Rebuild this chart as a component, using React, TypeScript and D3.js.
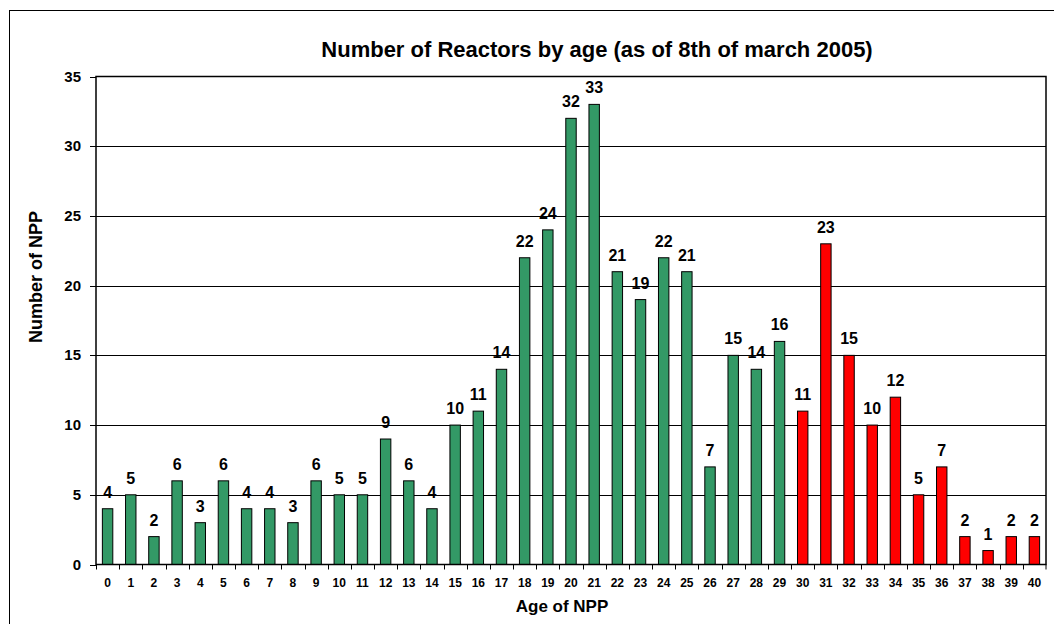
import React from "react";
import * as d3 from "d3";

const ages: number[] = [
  0, 1, 2, 3, 4, 5, 6, 7, 8, 9, 10, 11, 12, 13, 14, 15, 16, 17, 18, 19, 20,
  21, 22, 23, 24, 25, 26, 27, 28, 29, 30, 31, 32, 33, 34, 35, 36, 37, 38, 39, 40,
];
const counts: number[] = [
  4, 5, 2, 6, 3, 6, 4, 4, 3, 6, 5, 5, 9, 6, 4, 10, 11, 14, 22, 24, 32, 33, 21,
  19, 22, 21, 7, 15, 14, 16, 11, 23, 15, 10, 12, 5, 7, 2, 1, 2, 2,
];
const oldThreshold = 30;
const yTicks: number[] = [0, 5, 10, 15, 20, 25, 30, 35];
const title = "Number of Reactors by age (as of 8th of march 2005)";
const xTitle = "Age of NPP";
const yTitle = "Number of NPP";

const W = 1054;
const H = 624;
const L = 96;
const R = 1046;
const T = 76.5;
const B = 564.5;
const FONT = "'Liberation Sans', Arial, sans-serif";

export default function App() {
  const x = d3
    .scaleBand<number>()
    .domain(ages)
    .range([L, R])
    .paddingInner(0)
    .paddingOuter(0);
  const y = d3.scaleLinear().domain([0, 35]).range([B, T]);
  const step = x.step();
  const bw = step * 0.45;

  return (
    <svg
      width={W}
      height={H}
      style={{ position: "absolute", left: 0, top: 0 }}
      fontFamily={FONT}
    >
      <rect x={0} y={0} width={W} height={H} fill="#fff" />
      <rect
        x={9.5}
        y={10.5}
        width={W + 10}
        height={H + 10}
        fill="none"
        stroke="#000"
        strokeWidth={1}
      />
      <text
        x={597}
        y={57}
        textAnchor="middle"
        fontSize={22}
        fontWeight="bold"
      >
        {title}
      </text>

      {/* gridlines */}
      {yTicks
        .filter((t) => t > 0 && t < 35)
        .map((t) => (
          <line
            key={"g" + t}
            x1={L}
            x2={R}
            y1={Math.round(y(t)) + 0.5}
            y2={Math.round(y(t)) + 0.5}
            stroke="#000"
            strokeWidth={1}
          />
        ))}

      {/* bars */}
      {counts.map((v, i) => {
        const cx = (x(ages[i]) as number) + step / 2;
        return (
          <rect
            key={"b" + i}
            x={cx - bw / 2}
            y={y(v)}
            width={bw}
            height={B - y(v)}
            fill={ages[i] >= oldThreshold ? "#FF0000" : "#339966"}
            stroke="#000"
            strokeWidth={1}
          />
        );
      })}

      {/* value labels */}
      {counts.map((v, i) => {
        const cx = (x(ages[i]) as number) + step / 2;
        return (
          <text
            key={"v" + i}
            x={cx}
            y={y(v) - 11}
            textAnchor="middle"
            fontSize={16}
            fontWeight="bold"
          >
            {v}
          </text>
        );
      })}

      {/* plot border */}
      <rect
        x={L}
        y={T}
        width={R - L}
        height={B - T}
        fill="none"
        stroke="#000"
        strokeWidth={1.5}
      />

      {/* y axis ticks */}
      {yTicks.map((t) => (
        <g key={"y" + t}>
          <line
            x1={L - 6}
            x2={L}
            y1={Math.round(y(t)) + 0.5}
            y2={Math.round(y(t)) + 0.5}
            stroke="#000"
          />
          <text
            x={81}
            y={y(t) + 5}
            textAnchor="end"
            fontSize={15}
            fontWeight="bold"
          >
            {t}
          </text>
        </g>
      ))}

      {/* x axis ticks */}
      {ages.map((a, i) => (
        <line
          key={"xt" + i}
          x1={Math.round(x(a) as number) + 0.5}
          x2={Math.round(x(a) as number) + 0.5}
          y1={B}
          y2={B + 5}
          stroke="#000"
        />
      ))}
      <line x1={R} x2={R} y1={B} y2={B + 5} stroke="#000" />
      {ages.map((a, i) => (
        <text
          key={"xl" + i}
          x={(x(a) as number) + step / 2}
          y={587}
          textAnchor="middle"
          fontSize={12}
          fontWeight="bold"
        >
          {a}
        </text>
      ))}

      <text
        x={562}
        y={612}
        textAnchor="middle"
        fontSize={17}
        fontWeight="bold"
      >
        {xTitle}
      </text>
      <text
        transform={`translate(42,277) rotate(-90)`}
        textAnchor="middle"
        fontSize={18}
        fontWeight="bold"
      >
        {yTitle}
      </text>
    </svg>
  );
}
